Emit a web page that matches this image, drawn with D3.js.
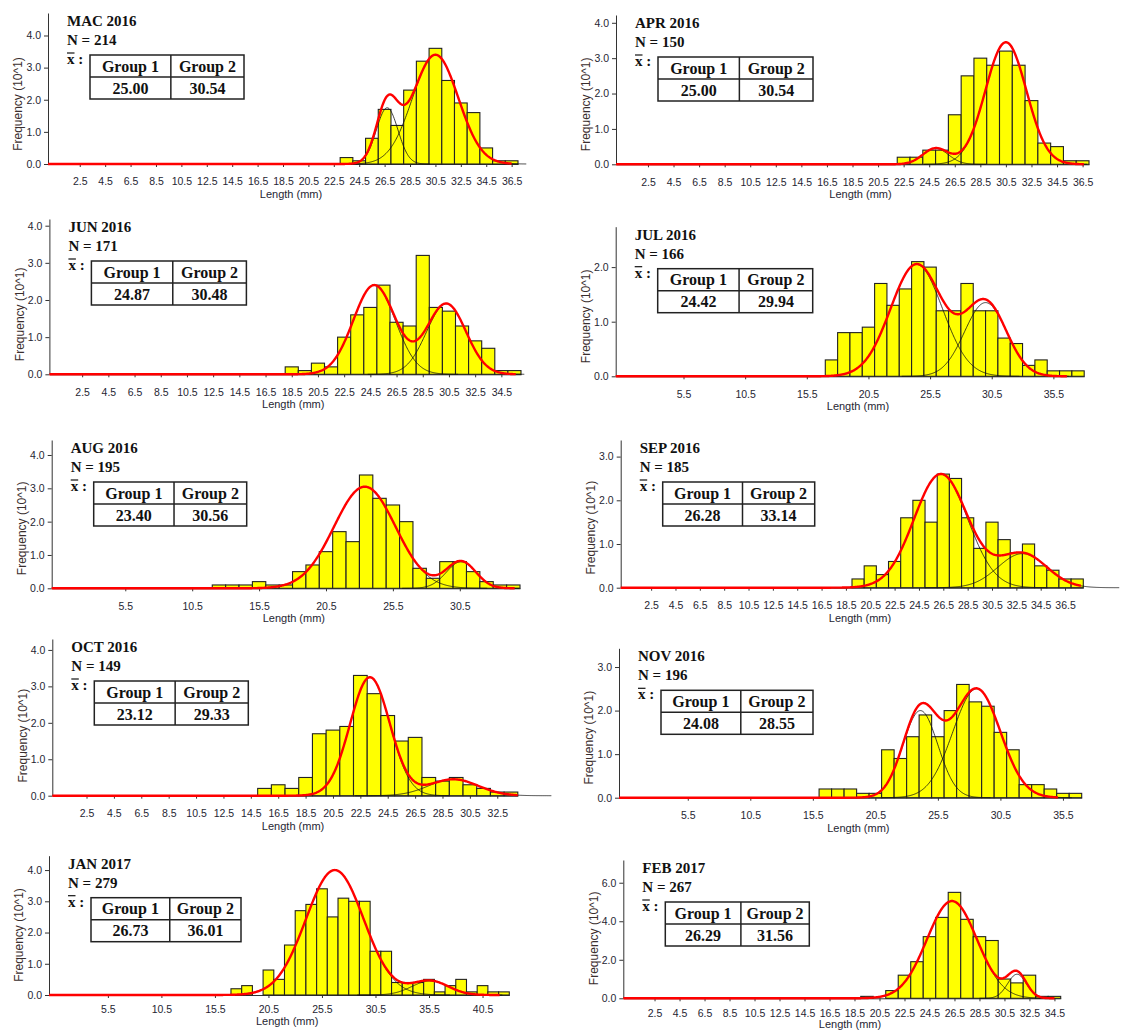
<!DOCTYPE html>
<html>
<head>
<meta charset="utf-8">
<script src="https://cdn.jsdelivr.net/npm/d3@7"></script>
<style>
    body { margin: 0; background: #fff; }
    svg { display: block; }
</style>
</head>
<body>
<svg id="chart" width="1147" height="1032"></svg>
<script>
// sampling months
const months = ["MAC 2016", "APR 2016", "JUN 2016", "JUL 2016", "AUG 2016",
    "SEP 2016", "OCT 2016", "NOV 2016", "JAN 2017", "FEB 2017"];
const sampleN = [214, 150, 171, 166, 195, 185, 149, 196, 279, 267];
const group1Mean = ["25.00", "25.00", "24.87", "24.42", "23.40", "26.28", "23.12", "24.08", "26.73", "26.29"];
const group2Mean = ["30.54", "30.54", "30.48", "29.94", "30.56", "33.14", "29.33", "28.55", "36.01", "31.56"];

// mid-length of the first 1 mm class
const firstClass = [23.5, 22.5, 18.5, 17.5, 12.5, 19.5, 15.5, 16.5, 17.5, 19.5];

// frequency (10^1) of each 1 mm length class
const freqMac = [0.2, 0.1, 0.8, 1.7, 1.2, 2.3, 3.2, 3.6, 2.6, 1.9, 1.6, 0.5, 0.1, 0.1];
const freqApr = [0.2, 0.2, 0.4, 0.4, 1.4, 2.5, 3.0, 2.8, 3.2, 2.8, 1.8, 0.6, 0.5, 0.1, 0.1];
const freqJun = [0.2, 0.1, 0.3, 0.2, 1.0, 1.6, 1.8, 2.4, 1.4, 1.3, 3.2, 1.8, 1.7, 1.3, 0.9, 0.7, 0.1, 0.1];
const freqJul = [0.3, 0.8, 0.8, 0.9, 1.7, 1.3, 1.6, 2.1, 2.0, 1.2, 1.2, 1.7, 1.2, 1.2, 0.7, 0.6, 0.2, 0.3, 0.1, 0.1, 0.1];
const freqAug = [0.1, 0.1, 0.1, 0.2, 0.1, 0.1, 0.5, 0.7, 1.1, 1.7, 1.4, 3.4, 2.7, 2.5, 2.0, 0.6, 0.3, 0.8, 0.8, 0.5, 0.2, 0.1, 0.1];
const freqSep = [0.2, 0.5, 0.3, 0.6, 1.6, 2.0, 1.5, 2.6, 2.5, 1.6, 0.9, 1.5, 1.1, 0.8, 1.0, 0.5, 0.4, 0.2, 0.2];
const freqOct = [0.2, 0.3, 0.2, 0.5, 1.7, 1.8, 1.9, 3.3, 2.8, 2.2, 1.5, 1.6, 0.5, 0.4, 0.5, 0.3, 0.2, 0.1, 0.1];
const freqNov = [0.2, 0.2, 0.2, 0.1, 0.1, 1.1, 0.9, 1.4, 1.9, 1.4, 2.0, 2.6, 2.2, 2.1, 1.5, 1.1, 0.3, 0.3, 0.2, 0.1, 0.1];
const freqJan = [0.2, 0.3, 0.0, 0.8, 0.5, 1.6, 2.7, 2.9, 3.4, 2.5, 3.1, 3.0, 3.0, 1.4, 1.4, 0.4, 0.4, 0.4, 0.5, 0.1, 0.3, 0.5, 0.1, 0.3, 0.1, 0.1];
const freqFeb = [0.1, 0.0, 0.4, 1.2, 1.9, 3.2, 4.2, 5.5, 4.1, 3.2, 3.0, 1.0, 0.8, 1.2, 0.1, 0.1];
const freqAll = [freqMac, freqApr, freqJun, freqJul, freqAug, freqSep, freqOct, freqNov, freqJan, freqFeb];

// fitted normal components: [mean, sd, peak]
const compMac = [[26.7, 0.85, 1.75], [30.5, 1.8, 3.4]];
const compApr = [[25.0, 1.0, 0.45], [30.5, 1.6, 3.45]];
const compJun = [[24.8, 1.6, 2.4], [30.3, 1.5, 1.9]];
const compJul = [[24.4, 2.1, 2.05], [30.0, 1.7, 1.35]];
const compAug = [[23.4, 2.3, 3.05], [30.6, 1.1, 0.8]];
const compSep = [[26.3, 2.2, 2.6], [33.0, 2.0, 0.78]];
const compOct = [[23.2, 1.45, 3.25], [29.3, 1.8, 0.45]];
const compNov = [[24.1, 1.4, 2.0], [28.6, 1.9, 2.5]];
const compJan = [[26.7, 2.7, 4.0], [35.6, 1.7, 0.45]];
const compFeb = [[26.3, 2.0, 5.05], [31.5, 0.75, 1.25]];
const compAll = [compMac, compApr, compJun, compJul, compAug, compSep, compOct, compNov, compJan, compFeb];

// where the red fitted curve stops (mm)
const curveEnd = [36.5, 36.6, 35.6, 36.6, 34.6, 37.8, 34.0, 35.1, 42.1, 34.5];

// axes
const xTicksBy2 = [2.5, 4.5, 6.5, 8.5, 10.5, 12.5, 14.5, 16.5, 18.5, 20.5, 22.5, 24.5, 26.5, 28.5, 30.5, 32.5, 34.5, 36.5];
const xTicksBy5 = [5.5, 10.5, 15.5, 20.5, 25.5, 30.5, 35.5, 40.5];
const xTickSet = [xTicksBy2, xTicksBy2, xTicksBy2, xTicksBy5, xTicksBy5, xTicksBy2, xTicksBy2, xTicksBy5, xTicksBy5, xTicksBy2];
const yTickSet = [[0, 1, 2, 3, 4], [0, 1, 2, 3, 4], [0, 1, 2, 3, 4], [0, 1, 2], [0, 1, 2, 3, 4],
    [0, 1, 2, 3], [0, 1, 2, 3, 4], [0, 1, 2, 3], [0, 1, 2, 3, 4], [0, 2, 4, 6]];
const xMax = [37, 37, 36, 38, 35, 38, 34, 37, 43, 35];
const yMax = [4.7, 4.22, 4.18, 2.74, 4.45, 3.38, 4.3, 3.43, 4.46, 7.18];

// panel boxes
const layout = [
    {left: 48, right: 518, top: 13, bottom: 164, tableW: 154},
    {left: 616, right: 1089, top: 15, bottom: 164.3, tableW: 155},
    {left: 49.4, right: 521, top: 219, bottom: 374.3, tableW: 155},
    {left: 615.7, right: 1084.2, top: 226.7, bottom: 376.3, tableW: 155},
    {left: 51.7, right: 520, top: 440, bottom: 588.3, tableW: 153},
    {left: 620.7, right: 1083.3, top: 440, bottom: 587.7, tableW: 152},
    {left: 52.3, right: 517.8, top: 639, bottom: 795.7, tableW: 154},
    {left: 619, right: 1081.7, top: 648.3, bottom: 797.7, tableW: 152},
    {left: 49, right: 509.3, top: 855.7, bottom: 995, tableW: 150, tight: true},
    {left: 623.3, right: 1060.7, top: 860, bottom: 998.3, tableW: 144, tight: true}
];

const sansFont = "'Liberation Sans', Arial, sans-serif";
const serifFont = "'Liberation Serif', 'Times New Roman', serif";

const svg = d3.select("#chart");
svg.append("rect")
    .attr("width", 1147)
    .attr("height", 1032)
    .attr("fill", "#ffffff");

months.forEach(function (m, k) {
    drawPanel(svg.append("g").attr("class", "panel"), k);
});

function normal(c, v) {
    return c[2] * Math.exp(-(v - c[0]) * (v - c[0]) / (2 * c[1] * c[1]));
}

function drawPanel(g, k) {
    const box = layout[k];
    const x = d3.scaleLinear().domain([0, xMax[k]]).range([box.left, box.right]);
    const y = d3.scaleLinear().domain([0, yMax[k]]).range([box.bottom, box.top]);

    //坐标轴
    const yAxis = g.append("g")
        .attr("transform", `translate(${box.left},0)`)
        .call(d3.axisLeft(y)
            .tickValues(yTickSet[k])
            .tickFormat(d3.format(".1f"))
            .tickSize(4)
            .tickSizeOuter(0));

    const xAxis = g.append("g")
        .attr("transform", `translate(0,${box.bottom})`)
        .call(d3.axisBottom(x)
            .tickValues(xTickSet[k].filter(t => t < xMax[k]))
            .tickFormat(d3.format(".1f"))
            .tickSize(3)
            .tickPadding(box.tight ? 8 : 11)
            .tickSizeOuter(0));

    [yAxis, xAxis].forEach(function (a) {
        a.attr("font-family", sansFont).attr("font-size", 10.5);
        a.selectAll("text").attr("fill", "#262633");
        a.selectAll("line").attr("stroke", "#333");
        a.select(".domain").attr("stroke", "#333");
    });

    g.append("text")
        .text("Frequency (10^1)")
        .attr("transform", `translate(${box.left - 30},${box.bottom - 60}) rotate(-90)`)
        .attr("dy", "0.35em")
        .attr("text-anchor", "middle")
        .attr("font-family", sansFont)
        .attr("font-size", 12)
        .attr("fill", "#3a2e2e");

    g.append("text")
        .text("Length (mm)")
        .attr("x", (box.left + box.right) / 2 + 8)
        .attr("y", box.bottom + (box.tight ? 30 : 34))
        .attr("text-anchor", "middle")
        .attr("font-family", sansFont)
        .attr("font-size", 11)
        .attr("fill", "#262633");

    //直方图
    const bins = freqAll[k].map(function (v, i) {
        return {mid: firstClass[k] + i, f: v};
    });

    g.append("g")
        .selectAll("rect")
        .data(bins)
        .join("rect")
        .attr("x", d => x(d.mid - 0.5))
        .attr("y", d => y(d.f))
        .attr("width", d => x(d.mid + 0.5) - x(d.mid - 0.5))
        .attr("height", d => y(0) - y(d.f))
        .attr("fill", "#ffff00")
        .attr("stroke", "#222")
        .attr("stroke-width", 1.1);

    //拟合曲线
    const line = d3.line()
        .x(d => x(d[0]))
        .y(d => y(d[1]));

    compAll[k].forEach(function (c) {
        const pts = d3.range(c[0] - 4 * c[1], c[0] + 4 * c[1], 0.05)
            .map(v => [v, normal(c, v)]);
        g.append("path")
            .attr("d", line(pts))
            .attr("fill", "none")
            .attr("stroke", "#111")
            .attr("stroke-width", 0.8);
    });

    const total = d3.range(0, curveEnd[k] + 0.001, 0.05)
        .map(v => [v, d3.sum(compAll[k], c => normal(c, v))]);

    g.append("path")
        .attr("d", line(total))
        .attr("fill", "none")
        .attr("stroke", "#ff0000")
        .attr("stroke-width", 2.4)
        .attr("stroke-linejoin", "round");

    //标题与均值表
    const tx = box.left + 19;
    const lines = [months[k], "N = " + sampleN[k]];
    g.selectAll("text.head")
        .data(lines)
        .join("text")
        .attr("class", "head")
        .text(d => d)
        .attr("x", tx)
        .attr("y", (d, i) => box.top + 13 + i * 19)
        .attr("font-family", serifFont)
        .attr("font-weight", "bold")
        .attr("font-size", 15)
        .attr("fill", "#111");

    g.append("text")
        .text("x :")
        .attr("x", tx)
        .attr("y", box.top + 51)
        .attr("font-family", serifFont)
        .attr("font-weight", "bold")
        .attr("font-size", 15)
        .attr("fill", "#111");

    g.append("line")
        .attr("x1", tx)
        .attr("x2", tx + 7.5)
        .attr("y1", box.top + 40)
        .attr("y2", box.top + 40)
        .attr("stroke", "#111")
        .attr("stroke-width", 1.2);

    const tb = {x: box.left + 42, y: box.top + 42, w: box.tableW, h: 44};
    const split = tb.w * 0.525;

    g.append("rect")
        .attr("x", tb.x)
        .attr("y", tb.y)
        .attr("width", tb.w)
        .attr("height", tb.h)
        .attr("fill", "#fff")
        .attr("stroke", "#222")
        .attr("stroke-width", 1.5);

    g.append("line")
        .attr("x1", tb.x + split).attr("x2", tb.x + split)
        .attr("y1", tb.y).attr("y2", tb.y + tb.h)
        .attr("stroke", "#222").attr("stroke-width", 1.5);

    g.append("line")
        .attr("x1", tb.x).attr("x2", tb.x + tb.w)
        .attr("y1", tb.y + tb.h / 2).attr("y2", tb.y + tb.h / 2)
        .attr("stroke", "#222").attr("stroke-width", 1.5);

    const cells = [
        {t: "Group 1", col: 0, row: 0},
        {t: "Group 2", col: 1, row: 0},
        {t: group1Mean[k], col: 0, row: 1},
        {t: group2Mean[k], col: 1, row: 1}
    ];

    g.selectAll("text.cell")
        .data(cells)
        .join("text")
        .attr("class", "cell")
        .text(d => d.t)
        .attr("x", d => d.col === 0 ? tb.x + split / 2 : tb.x + split + (tb.w - split) / 2)
        .attr("y", d => tb.y + d.row * tb.h / 2 + tb.h / 4 + 5.5)
        .attr("text-anchor", "middle")
        .attr("font-family", serifFont)
        .attr("font-weight", "bold")
        .attr("font-size", 16)
        .attr("fill", "#111");
}
</script>
</body>
</html>
